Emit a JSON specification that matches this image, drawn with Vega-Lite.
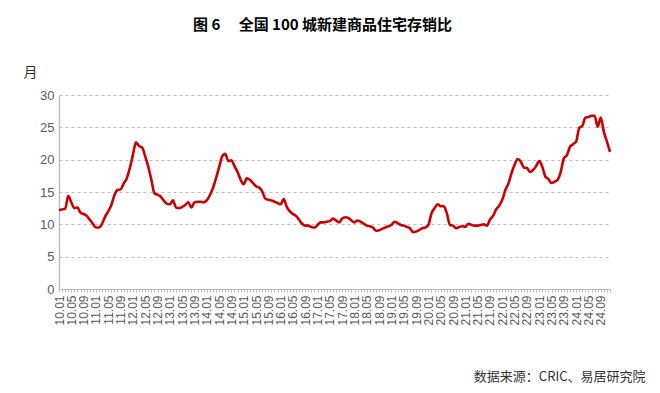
{
  "$schema": "https://vega.github.io/schema/vega-lite/v6.json",
  "autosize": "none",
  "width": 551,
  "height": 194,
  "padding": {"left": 59, "top": 95, "right": 50, "bottom": 104},
  "background": "white",
  "title": {
    "text": "图 6\u3000\u00a0全国 100 城新建商品住宅存销比",
    "font": "Noto Sans CJK SC",
    "fontSize": 15,
    "fontWeight": "bold",
    "color": "#000000",
    "anchor": "middle",
    "dx": -12,
    "offset": 32
  },
  "config": {
    "view": {"stroke": null},
    "font": "Liberation Sans"
  },
  "data": {
    "values": [
      {"m":"10.01","v":12.2},{"m":"10.02","v":12.3},{"m":"10.03","v":12.4},{"m":"10.04","v":14.4},{"m":"10.05","v":13.4},{"m":"10.06","v":12.5},{"m":"10.07","v":12.6},{"m":"10.08","v":11.8},{"m":"10.09","v":11.6},{"m":"10.10","v":11.3},{"m":"10.11","v":10.7},{"m":"10.12","v":10.1},
      {"m":"11.01","v":9.5},{"m":"11.02","v":9.5},{"m":"11.03","v":10.1},{"m":"11.04","v":11.2},{"m":"11.05","v":12.0},{"m":"11.06","v":13.0},{"m":"11.07","v":14.5},{"m":"11.08","v":15.3},{"m":"11.09","v":15.4},{"m":"11.10","v":16.3},{"m":"11.11","v":17.1},{"m":"11.12","v":18.7},
      {"m":"12.01","v":20.7},{"m":"12.02","v":22.7},{"m":"12.03","v":22.1},{"m":"12.04","v":21.9},{"m":"12.05","v":20.5},{"m":"12.06","v":18.9},{"m":"12.07","v":16.9},{"m":"12.08","v":14.8},{"m":"12.09","v":14.6},{"m":"12.10","v":14.3},{"m":"12.11","v":13.7},{"m":"12.12","v":13.2},
      {"m":"13.01","v":13.1},{"m":"13.02","v":13.7},{"m":"13.03","v":12.6},{"m":"13.04","v":12.5},{"m":"13.05","v":12.7},{"m":"13.06","v":13.0},{"m":"13.07","v":13.4},{"m":"13.08","v":12.6},{"m":"13.09","v":13.4},{"m":"13.10","v":13.5},{"m":"13.11","v":13.5},{"m":"13.12","v":13.4},
      {"m":"14.01","v":13.7},{"m":"14.02","v":14.5},{"m":"14.03","v":15.6},{"m":"14.04","v":17.1},{"m":"14.05","v":18.8},{"m":"14.06","v":20.5},{"m":"14.07","v":20.9},{"m":"14.08","v":19.8},{"m":"14.09","v":19.9},{"m":"14.10","v":19.0},{"m":"14.11","v":18.1},{"m":"14.12","v":16.9},
      {"m":"15.01","v":16.2},{"m":"15.02","v":17.1},{"m":"15.03","v":16.9},{"m":"15.04","v":16.4},{"m":"15.05","v":15.9},{"m":"15.06","v":15.7},{"m":"15.07","v":15.1},{"m":"15.08","v":14.0},{"m":"15.09","v":13.8},{"m":"15.10","v":13.7},{"m":"15.11","v":13.5},{"m":"15.12","v":13.3},
      {"m":"16.01","v":13.1},{"m":"16.02","v":13.9},{"m":"16.03","v":12.7},{"m":"16.04","v":12.0},{"m":"16.05","v":11.6},{"m":"16.06","v":11.3},{"m":"16.07","v":10.7},{"m":"16.08","v":10.1},{"m":"16.09","v":9.8},{"m":"16.10","v":9.8},{"m":"16.11","v":9.6},{"m":"16.12","v":9.5},
      {"m":"17.01","v":9.9},{"m":"17.02","v":10.3},{"m":"17.03","v":10.3},{"m":"17.04","v":10.4},{"m":"17.05","v":10.5},{"m":"17.06","v":10.9},{"m":"17.07","v":10.6},{"m":"17.08","v":10.3},{"m":"17.09","v":10.9},{"m":"17.10","v":11.1},{"m":"17.11","v":11.0},{"m":"17.12","v":10.6},
      {"m":"18.01","v":10.3},{"m":"18.02","v":10.6},{"m":"18.03","v":10.4},{"m":"18.04","v":10.1},{"m":"18.05","v":9.8},{"m":"18.06","v":9.7},{"m":"18.07","v":9.5},{"m":"18.08","v":9.0},{"m":"18.09","v":9.1},{"m":"18.10","v":9.3},{"m":"18.11","v":9.5},{"m":"18.12","v":9.7},
      {"m":"19.01","v":9.9},{"m":"19.02","v":10.4},{"m":"19.03","v":10.2},{"m":"19.04","v":9.9},{"m":"19.05","v":9.8},{"m":"19.06","v":9.6},{"m":"19.07","v":9.4},{"m":"19.08","v":8.8},{"m":"19.09","v":8.9},{"m":"19.10","v":9.1},{"m":"19.11","v":9.4},{"m":"19.12","v":9.5},
      {"m":"20.01","v":9.9},{"m":"20.02","v":11.7},{"m":"20.03","v":12.5},{"m":"20.04","v":13.1},{"m":"20.05","v":12.8},{"m":"20.06","v":12.8},{"m":"20.07","v":11.7},{"m":"20.08","v":9.9},{"m":"20.09","v":9.8},{"m":"20.10","v":9.4},{"m":"20.11","v":9.6},{"m":"20.12","v":9.7},
      {"m":"21.01","v":9.6},{"m":"21.02","v":10.1},{"m":"21.03","v":9.9},{"m":"21.04","v":9.8},{"m":"21.05","v":9.8},{"m":"21.06","v":9.9},{"m":"21.07","v":10.0},{"m":"21.08","v":9.8},{"m":"21.09","v":10.7},{"m":"21.10","v":11.3},{"m":"21.11","v":12.3},{"m":"21.12","v":12.9},
      {"m":"22.01","v":13.8},{"m":"22.02","v":15.3},{"m":"22.03","v":16.3},{"m":"22.04","v":17.9},{"m":"22.05","v":19.2},{"m":"22.06","v":20.1},{"m":"22.07","v":19.7},{"m":"22.08","v":18.8},{"m":"22.09","v":18.7},{"m":"22.10","v":18.1},{"m":"22.11","v":18.4},{"m":"22.12","v":19.0},
      {"m":"23.01","v":19.8},{"m":"23.02","v":18.9},{"m":"23.03","v":17.4},{"m":"23.04","v":17.0},{"m":"23.05","v":16.4},{"m":"23.06","v":16.6},{"m":"23.07","v":16.9},{"m":"23.08","v":18.1},{"m":"23.09","v":20.2},{"m":"23.10","v":20.7},{"m":"23.11","v":22.0},{"m":"23.12","v":22.4},
      {"m":"24.01","v":22.8},{"m":"24.02","v":24.9},{"m":"24.03","v":25.2},{"m":"24.04","v":26.5},{"m":"24.05","v":26.6},{"m":"24.06","v":26.8},{"m":"24.07","v":26.8},{"m":"24.08","v":25.1},{"m":"24.09","v":26.5},{"m":"24.10","v":24.3},{"m":"24.11","v":22.8},{"m":"24.12","v":21.2}
    ]
  },
  "mark": {"type": "line", "color": "#cc0000", "strokeWidth": 2.6, "interpolate": "monotone"},
  "encoding": {
    "x": {
      "field": "m",
      "type": "ordinal",
      "sort": null,
      "scale": {"type": "point", "padding": 0},
      "axis": {
        "labelExpr": "(slice(datum.value, 3) == '01' || slice(datum.value, 3) == '05' || slice(datum.value, 3) == '09') ? datum.value : ''",
        "labelOverlap": false,
        "labelAngle": -90,
        "labelFontSize": 12,
        "labelColor": "#595959",
        "labelPadding": 3,
        "tickSize": 3,
        "tickColor": "#bfbfbf",
        "domainColor": "#bfbfbf",
        "domainWidth": 1,
        "grid": false,
        "title": "数据来源：CRIC、易居研究院",
        "titleFont": "Noto Sans CJK SC",
        "titleFontSize": 13,
        "titleFontWeight": "normal",
        "titleColor": "#333333",
        "titleAnchor": "end",
        "titleAlign": "right",
        "titleBaseline": "middle",
        "titleX": 586,
        "titleY": 87
      }
    },
    "y": {
      "field": "v",
      "type": "quantitative",
      "scale": {"domain": [0, 30]},
      "axis": {
        "values": [0, 5, 10, 15, 20, 25, 30],
        "labelFontSize": 13,
        "labelColor": "#595959",
        "labelPadding": 5,
        "ticks": false,
        "domain": true,
        "domainColor": "#bfbfbf",
        "domainWidth": 1.5,
        "grid": true,
        "gridColor": "#bfbfbf",
        "gridDash": [3, 3],
        "gridWidth": 1,
        "title": "月",
        "titleFont": "Noto Sans CJK SC",
        "titleFontSize": 14,
        "titleFontWeight": "normal",
        "titleColor": "#333333",
        "titleAngle": 0,
        "titleAlign": "center",
        "titleBaseline": "middle",
        "titleX": -29,
        "titleY": -23
      }
    }
  }
}
